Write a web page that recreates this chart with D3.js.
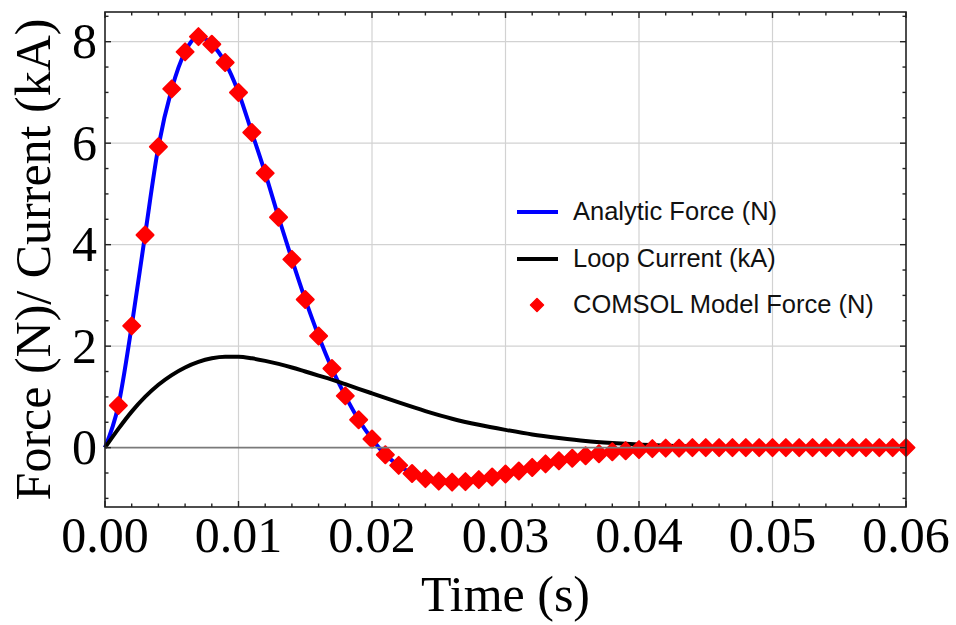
<!DOCTYPE html>
<html>
<head>
<meta charset="utf-8">
<script src="https://cdn.jsdelivr.net/npm/d3@7"></script>
<style>
  body { margin: 0; background: #fff; }
  #chart { width: 956px; height: 625px; }
  .axis-label { font-family: "Liberation Serif", "Times New Roman", serif; fill: #000; }
  .legend text { font-family: "Liberation Sans", Arial, sans-serif; font-size: 25.5px; fill: #111; }
</style>
</head>
<body>
<div id="chart"><svg></svg></div>
<script>
// data
// time in seconds for the COMSOL points (every 1 ms)
var comsolTime = [
  0.001, 0.002, 0.003, 0.004, 0.005, 0.006, 0.007, 0.008, 0.009, 0.010,
  0.011, 0.012, 0.013, 0.014, 0.015, 0.016, 0.017, 0.018, 0.019, 0.020,
  0.021, 0.022, 0.023, 0.024, 0.025, 0.026, 0.027, 0.028, 0.029, 0.030,
  0.031, 0.032, 0.033, 0.034, 0.035, 0.036, 0.037, 0.038, 0.039, 0.040,
  0.041, 0.042, 0.043, 0.044, 0.045, 0.046, 0.047, 0.048, 0.049, 0.050,
  0.051, 0.052, 0.053, 0.054, 0.055, 0.056, 0.057, 0.058, 0.059, 0.060
];
var comsolForce = [
  0.83, 2.40, 4.19, 5.93, 7.07, 7.80, 8.10, 7.95, 7.59, 7.00,
  6.21, 5.41, 4.54, 3.71, 2.92, 2.20, 1.56, 1.02, 0.55, 0.17,
  -0.14, -0.35, -0.51, -0.61, -0.66, -0.68, -0.67, -0.63, -0.58, -0.52,
  -0.46, -0.39, -0.32, -0.26, -0.21, -0.16, -0.12, -0.08, -0.06, -0.04,
  -0.02, -0.01, -0.01, 0, 0, 0, 0, 0, 0, 0,
  0, 0, 0, 0, 0, 0, 0, 0, 0, 0
];

// analytic force curve
var analyticTime = [
  0, 0.001, 0.002, 0.003, 0.004, 0.005, 0.006, 0.007, 0.008, 0.009, 0.010,
  0.011, 0.012, 0.013, 0.014, 0.015, 0.016, 0.017, 0.018, 0.019, 0.020,
  0.021, 0.022, 0.023, 0.024, 0.025, 0.026, 0.027, 0.028, 0.029, 0.030,
  0.032, 0.034, 0.036, 0.038, 0.040, 0.042, 0.044, 0.046, 0.050, 0.055, 0.060
];
var analyticForce = [
  0, 0.83, 2.40, 4.19, 5.93, 7.07, 7.80, 8.10, 7.95, 7.59, 7.00,
  6.21, 5.41, 4.54, 3.71, 2.92, 2.20, 1.56, 1.02, 0.55, 0.17,
  -0.14, -0.35, -0.51, -0.61, -0.66, -0.68, -0.67, -0.63, -0.58, -0.52,
  -0.39, -0.26, -0.16, -0.08, -0.04, -0.01, 0, 0, 0, 0, 0
];

// loop current (kA)
var currentTime = [
  0, 0.001, 0.002, 0.003, 0.004, 0.005, 0.006, 0.007, 0.008, 0.009, 0.010,
  0.011, 0.012, 0.013, 0.014, 0.015, 0.016, 0.017, 0.018, 0.019, 0.020,
  0.022, 0.024, 0.026, 0.028, 0.030, 0.032, 0.034, 0.036, 0.038, 0.040,
  0.042, 0.044, 0.046, 0.048, 0.050, 0.055, 0.060
];
var loopCurrent = [
  0, 0.37, 0.71, 1.00, 1.24, 1.43, 1.58, 1.69, 1.76, 1.79, 1.79,
  1.76, 1.71, 1.65, 1.58, 1.50, 1.42, 1.34, 1.25, 1.16, 1.07,
  0.89, 0.72, 0.57, 0.45, 0.35, 0.26, 0.19, 0.13, 0.09, 0.06,
  0.04, 0.02, 0.01, 0.005, 0, 0, 0
];

var xTicks = [0, 0.01, 0.02, 0.03, 0.04, 0.05, 0.06];
var xMinor = [0.002, 0.004, 0.006, 0.008, 0.012, 0.014, 0.016, 0.018, 0.022, 0.024, 0.026, 0.028,
  0.032, 0.034, 0.036, 0.038, 0.042, 0.044, 0.046, 0.048, 0.052, 0.054, 0.056, 0.058];
var yTicks = [0, 2, 4, 6, 8];
var yMinor = [-1, -0.5, 0.5, 1, 1.5, 2.5, 3, 3.5, 4.5, 5, 5.5, 6.5, 7, 7.5, 8.5];
var legendNames = ["Analytic Force (N)", "Loop Current (kA)", "COMSOL Model Force (N)"];

// margins
var T = 12;
var L = 105;
var R = 50;
var B = 118;
var W = 956, H = 625;

var x = d3.scaleLinear().domain([0, 0.06]).range([L, W - R]);
var y = d3.scaleLinear().domain([-1.17, 8.585]).range([H - B, T]);

var svg = d3.select("#chart svg").attr("width", W).attr("height", H);

// grid
var gGrid = svg.append("g").attr("class", "grid");
gGrid.selectAll(null).data(xTicks.slice(1, -1)).enter()
  .append("line")
  .attr("x1", function(d) { return x(d); }).attr("x2", function(d) { return x(d); })
  .attr("y1", y.range()[0]).attr("y2", y.range()[1])
  .attr("stroke", "#d2d2d2").attr("stroke-width", 1.2);
gGrid.selectAll(null).data(yTicks.slice(1)).enter()
  .append("line")
  .attr("x1", x.range()[0]).attr("x2", x.range()[1])
  .attr("y1", function(d) { return y(d); }).attr("y2", function(d) { return y(d); })
  .attr("stroke", "#d2d2d2").attr("stroke-width", 1.2);

// lines
var lineF = d3.line()
  .x(function(d, i) { return x(analyticTime[i]); })
  .y(function(d) { return y(d); })
  .curve(d3.curveMonotoneX);
svg.append("path")
  .attr("d", lineF(analyticForce))
  .attr("fill", "none").attr("stroke", "#0000ff").attr("stroke-width", 4);

var lineI = d3.line()
  .x(function(d, i) { return x(currentTime[i]); })
  .y(function(d) { return y(d); })
  .curve(d3.curveMonotoneX);
svg.append("path")
  .attr("d", lineI(loopCurrent))
  .attr("fill", "none").attr("stroke", "#000").attr("stroke-width", 4);

// diamonds
function diamond(r) {
  return "M0," + (-r) + "L" + r + ",0L0," + r + "L" + (-r) + ",0Z";
}
svg.append("g").attr("class", "points")
  .selectAll("path").data(comsolForce).enter()
  .append("path")
  .attr("d", diamond(8.5))
  .attr("transform", function(d, i) { return "translate(" + x(comsolTime[i]) + "," + y(d) + ")"; })
  .attr("fill", "#ff0000").attr("stroke", "#ff0000")
  .attr("stroke-width", 2).attr("stroke-linejoin", "round");

// zero axis line (on top like mathematica)
svg.append("line")
  .attr("x1", x.range()[0]).attr("x2", x.range()[1])
  .attr("y1", y(0)).attr("y2", y(0))
  .attr("stroke", "#7a7a7a").attr("stroke-width", 1.6);

// frame + inside ticks
var gxB = svg.append("g").attr("transform", "translate(0," + y.range()[0] + ")");
var gxT = svg.append("g").attr("transform", "translate(0," + y.range()[1] + ")");
var gyL = svg.append("g").attr("transform", "translate(" + x.range()[0] + ",0)");
var gyR = svg.append("g").attr("transform", "translate(" + x.range()[1] + ",0)");

function ticks(g, scale, vals, len, horiz) {
  g.selectAll(null).data(vals).enter()
    .append("line")
    .attr("x1", function(d) { return horiz ? scale(d) : 0; })
    .attr("x2", function(d) { return horiz ? scale(d) : len; })
    .attr("y1", function(d) { return horiz ? 0 : scale(d); })
    .attr("y2", function(d) { return horiz ? len : scale(d); })
    .attr("stroke", "#222").attr("stroke-width", 1.4);
}
ticks(gxB, x, xMinor, -3.5, true);
ticks(gxB, x, xTicks, -6, true);
ticks(gxT, x, xMinor, 3.5, true);
ticks(gxT, x, xTicks, 6, true);
ticks(gyL, y, yMinor, 3.5, false);
ticks(gyL, y, yTicks, 6, false);
ticks(gyR, y, yMinor, -3.5, false);
ticks(gyR, y, yTicks, -6, false);

svg.append("rect")
  .attr("x", x.range()[0]).attr("y", y.range()[1])
  .attr("width", x.range()[1] - x.range()[0])
  .attr("height", y.range()[0] - y.range()[1])
  .attr("fill", "none").attr("stroke", "#222").attr("stroke-width", 1.6);

// tick labels
svg.append("g").selectAll("text").data(xTicks).enter()
  .append("text")
  .attr("class", "axis-label")
  .attr("x", function(d) { return x(d); })
  .attr("y", 552)
  .attr("text-anchor", "middle")
  .style("font-size", "50px")
  .text(function(d) { return d3.format(".2f")(d); });

svg.append("g").selectAll("text").data(yTicks).enter()
  .append("text")
  .attr("class", "axis-label")
  .attr("x", 97)
  .attr("y", function(d) { return y(d); })
  .attr("dy", "0.33em")
  .attr("text-anchor", "end")
  .style("font-size", "50px")
  .text(function(d) { return d; });

// axis titles
svg.append("text")
  .attr("class", "axis-label")
  .attr("x", (x.range()[0] + x.range()[1]) / 2)
  .attr("y", 611)
  .attr("text-anchor", "middle")
  .style("font-size", "50px")
  .text("Time (s)");

svg.append("text")
  .attr("class", "axis-label")
  .attr("transform", "translate(50," + ((y.range()[0] + y.range()[1]) / 2) + ") rotate(-90)")
  .attr("text-anchor", "middle")
  .style("font-size", "50px")
  .text("Force (N)/ Current (kA)");

// legend
var leg = svg.append("g").attr("class", "legend");
var legY = [212, 259, 305];
leg.append("line").attr("x1", 517).attr("x2", 558).attr("y1", legY[0]).attr("y2", legY[0])
  .attr("stroke", "#0000ff").attr("stroke-width", 4);
leg.append("line").attr("x1", 517).attr("x2", 558).attr("y1", legY[1]).attr("y2", legY[1])
  .attr("stroke", "#000").attr("stroke-width", 4);
leg.append("path").attr("d", diamond(6.5))
  .attr("transform", "translate(537," + legY[2] + ")")
  .attr("fill", "#ff0000").attr("stroke", "#ff0000").attr("stroke-width", 1.5)
  .attr("stroke-linejoin", "round");
leg.selectAll("text").data(legendNames).enter()
  .append("text")
  .attr("x", 573)
  .attr("y", function(d, i) { return legY[i] + 8; })
  .text(function(d) { return d; });
</script>
</body>
</html>
